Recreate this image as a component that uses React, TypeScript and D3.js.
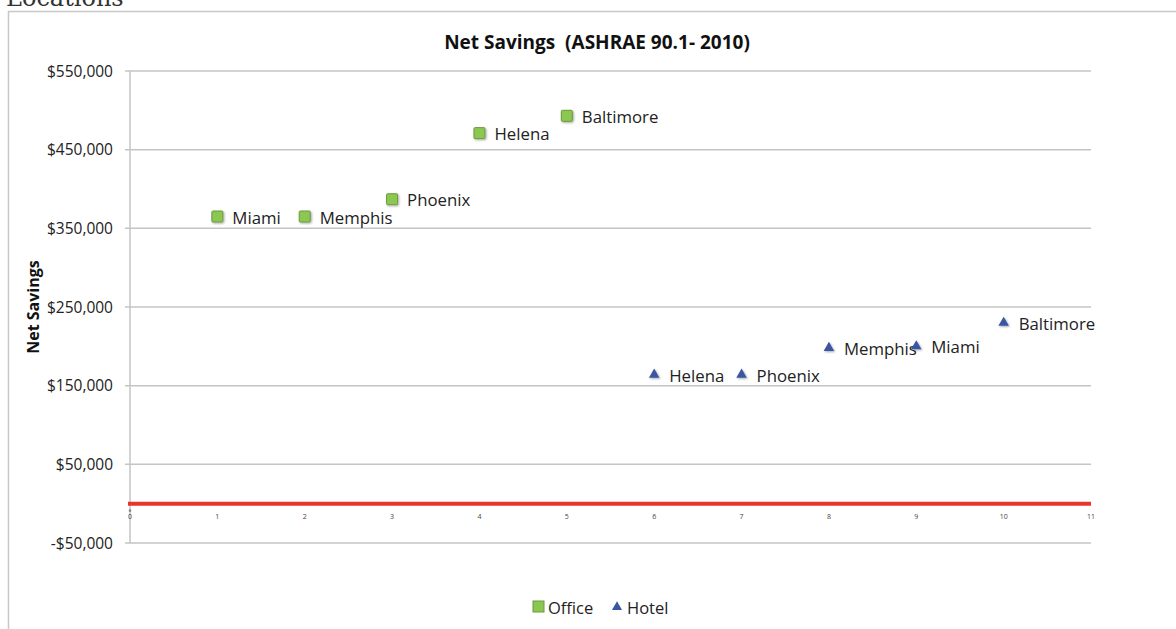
import React from 'react';
import * as d3 from 'd3';

// values
const officeX = [1, 2, 3, 4, 5];
const officeY = [365000, 365000, 387000, 471000, 493000];
const officeNames = ['Miami', 'Memphis', 'Phoenix', 'Helena', 'Baltimore'];

const hotelX = [6, 7, 8, 9, 10];
const hotelY = [164000, 164000, 198000, 200000, 230000];
const hotelNames = ['Helena', 'Phoenix', 'Memphis', 'Miami', 'Baltimore'];

const yTicks = [550000, 450000, 350000, 250000, 150000, 50000, -50000];
const xTicks = [0, 1, 2, 3, 4, 5, 6, 7, 8, 9, 10, 11];
const legendItems = ['Office', 'Hotel'];

const W = 1176;
const H = 629;
const font = '"Open Sans", "Noto Sans", sans-serif';

const App = () => {
  const x = d3.scaleLinear().domain([0, 11]).range([130, 1091]);
  const y = d3.scaleLinear().domain([-50000, 550000]).range([543, 71]);
  const fmt = (v: number) => (v < 0 ? '-$' : '$') + d3.format(',')(Math.abs(v));
  const tri = d3.symbol().type(d3.symbolTriangle).size(48);

  return (
    <div style={{ position: 'fixed', left: 0, top: 0 }}>
      <svg width={W} height={H} style={{ display: 'block', background: '#fff' }}>
        <defs>
          <filter id="sh" x="-50%" y="-50%" width="200%" height="200%">
            <feDropShadow dx="1" dy="1" stdDeviation="0.8" floodColor="#000" floodOpacity="0.35" />
          </filter>
        </defs>
        <text x={6} y={6} fontFamily="Georgia, 'DejaVu Serif', serif" fontSize={24} fill="#333">Locations</text>
        {/* chart frame */}
        <line x1={8.5} x2={8.5} y1={11} y2={H} stroke="#c8c8c8" strokeWidth={1.5} />
        <line x1={8} x2={W} y1={11.5} y2={11.5} stroke="#c8c8c8" strokeWidth={1.5} />

        <text x={597} y={49} textAnchor="middle" fontFamily={font} fontWeight="bold" fontSize={19} fill="#111"
          style={{ whiteSpace: 'pre' }}>
          {'Net Savings  (ASHRAE 90.1- 2010)'}
        </text>

        {/* gridlines + y labels */}
        {yTicks.map(t => (
          <g key={t}>
            <line x1={125} x2={x(11)} y1={y(t)} y2={y(t)} stroke="#c4c4c4" strokeWidth={1.5} />
            <text x={113} y={y(t) + 5.5} textAnchor="end" fontFamily={font} fontSize={15.5} fill="#222">{fmt(t)}</text>
          </g>
        ))}
        <line x1={x(0)} x2={x(0)} y1={y(550000)} y2={y(-50000)} stroke="#c4c4c4" strokeWidth={1.5} />
        <text transform={`translate(39,${(y(550000) + y(-50000)) / 2}) rotate(-90)`} textAnchor="middle"
          fontFamily={font} fontWeight="bold" fontSize={16} fill="#111">Net Savings</text>

        {/* x tick labels */}
        {xTicks.map(t => (
          <text key={t} x={x(t)} y={y(0) + 15} textAnchor="middle" fontFamily={font} fontSize={7} fill="#444">{t}</text>
        ))}
        <circle cx={x(0)} cy={y(0) + 7} r={1.3} fill="#888" />

        {/* zero line */}
        <line x1={x(0) - 2} x2={x(11)} y1={y(0)} y2={y(0)} stroke="#e8342c" strokeWidth={4} />

        {/* office points */}
        {officeX.map((v, i) => (
          <g key={'o' + i}>
            <rect x={x(v) - 5.5} y={y(officeY[i]) - 5.5} width={11} height={11} rx={1}
              fill="#8cc751" stroke="#6a9a3c" strokeWidth={1} filter="url(#sh)" />
            <text x={x(v) + 15} y={y(officeY[i]) + 7} fontFamily={font} fontSize={16.8} fill="#222">{officeNames[i]}</text>
          </g>
        ))}

        {/* hotel points */}
        {hotelX.map((v, i) => (
          <g key={'h' + i}>
            <path d={tri() as string} transform={`translate(${x(v)},${y(hotelY[i])})`} fill="#3b55a3" filter="url(#sh)" />
            <text x={x(v) + 15} y={y(hotelY[i]) + 7} fontFamily={font} fontSize={16.8} fill="#222">{hotelNames[i]}</text>
          </g>
        ))}

        {/* legend */}
        <rect x={533} y={601} width={11} height={11} fill="#8cc751" stroke="#6a9a3c" strokeWidth={1} />
        <text x={548} y={614} fontFamily={font} fontSize={16.5} fill="#222">{legendItems[0]}</text>
        <path d={d3.symbol().type(d3.symbolTriangle).size(44)() as string} transform="translate(617,607)" fill="#3b55a3" />
        <text x={627} y={614} fontFamily={font} fontSize={16.5} fill="#222">{legendItems[1]}</text>
      </svg>
    </div>
  );
};

export default App;
